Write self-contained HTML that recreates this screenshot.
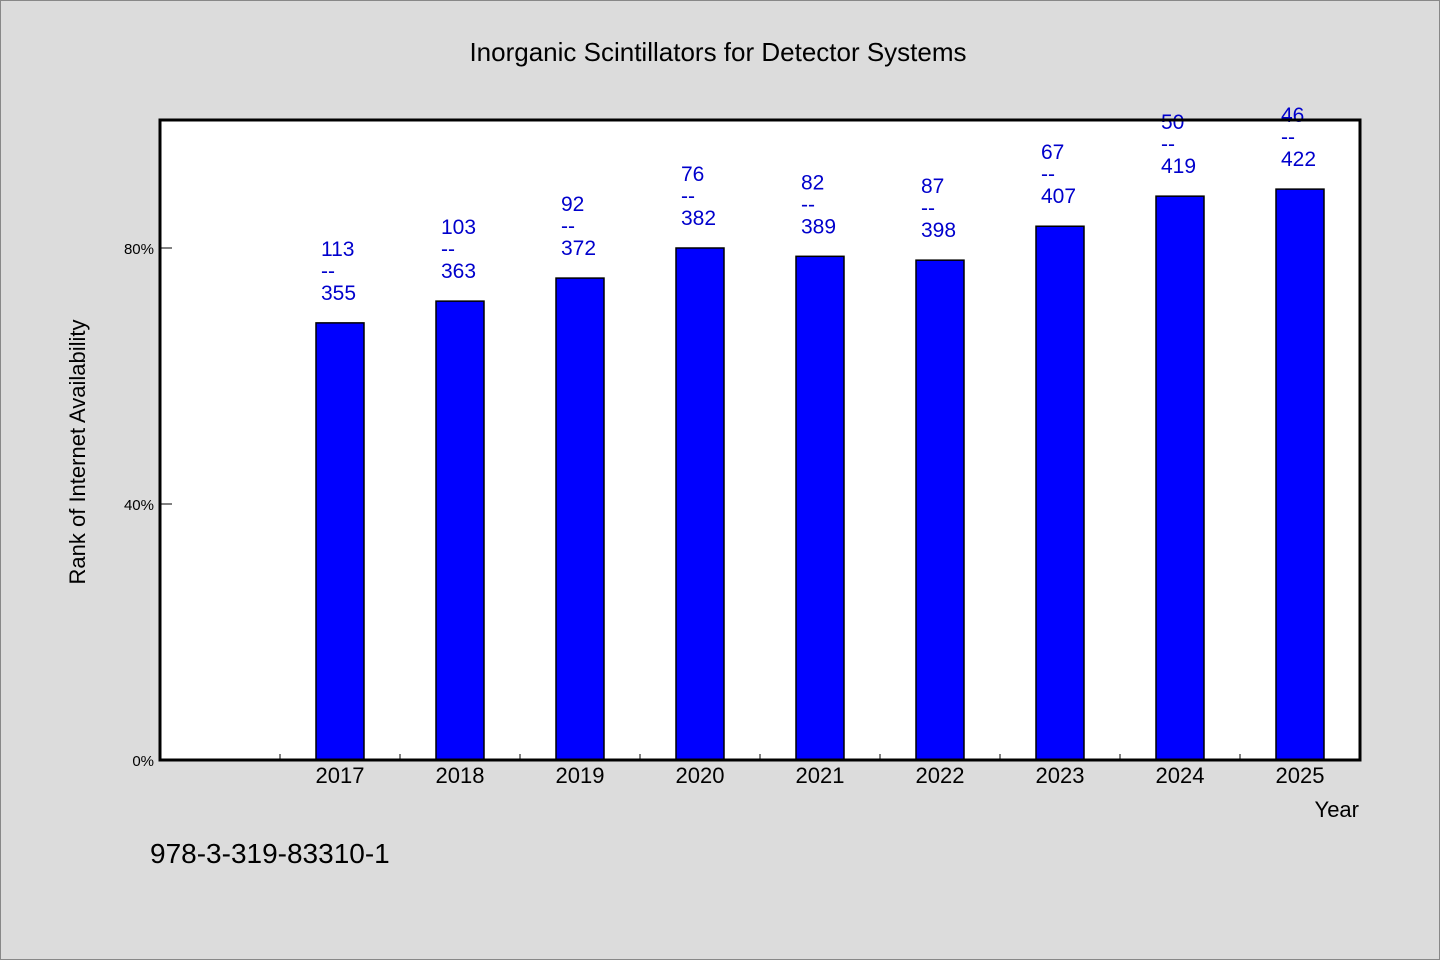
<!DOCTYPE html>
<html><head><meta charset="utf-8">
<style>
body{margin:0;background:#dcdcdc;}
svg{display:block;font-family:"WenQuanYi Zen Hei Mono","WenQuanYi Zen Hei","Liberation Sans",sans-serif;}
</style></head>
<body>
<svg id="chart" width="1440" height="960" viewBox="0 0 1440 960">
<rect x="0.5" y="0.5" width="1439" height="959" fill="#dcdcdc" stroke="#888"/>
<text x="718" y="61" text-anchor="middle" font-size="26">Inorganic Scintillators for Detector Systems</text>
<rect x="160" y="120" width="1200" height="640" fill="#fff"/>
<g id="bars"></g>
<g id="labels"></g>
<g id="yticks"></g>
<g id="xticks"></g>
<rect x="160" y="120" width="1200" height="640" fill="none" stroke="#000" stroke-width="3"/>
<text transform="translate(85,452) rotate(-90)" text-anchor="middle" font-size="22">Rank of Internet Availability</text>
<text x="1359" y="817" text-anchor="end" font-size="22">Year</text>
<text x="150" y="863" font-size="28">978-3-319-83310-1</text>
</svg>
<script>
const categories=["2017","2018","2019","2020","2021","2022","2023","2024","2025"];
const values=[68.3,71.7,75.3,80,78.7,78.1,83.4,88.1,89.2];
const topLabels=["113","103","92","76","82","87","67","50","46"];
const bottomLabels=["355","363","372","382","389","398","407","419","422"];
const yTicks=[0,40,80];
const NS="http://www.w3.org/2000/svg";
const X0=160,W=1200,Y0=760,H=640,YMAX=100,SLOTS=categories.length+1;
const slot=W/SLOTS;
const y=v=>Y0-v/YMAX*H;
const xc=i=>X0+slot*(i+1)+slot/2;
function mk(tag,attrs,parent){const e=document.createElementNS(NS,tag);for(const k in attrs)e.setAttribute(k,attrs[k]);document.getElementById(parent).appendChild(e);return e;}
categories.forEach((c,i)=>{
  const b=mk('rect',{x:xc(i)-24,y:y(values[i]),width:48,height:Y0-y(values[i]),fill:'#0000ff',stroke:'#000','stroke-width':1.5},'bars');
  
  
  const t=y(values[i]);
  const l1=mk('text',{x:xc(i)-19,y:t-67,'font-size':21,fill:'#0000cc'},'labels');l1.textContent=topLabels[i];
  
  
  const l2=mk('text',{x:xc(i)-19,y:t-45,'font-size':21,fill:'#0000cc'},'labels');l2.textContent='--';
  
  
  const l3=mk('text',{x:xc(i)-19,y:t-23,'font-size':21,fill:'#0000cc'},'labels');l3.textContent=bottomLabels[i];
  
  
  const xl=mk('text',{x:xc(i),y:783,'text-anchor':'middle','font-size':22},'xticks');xl.textContent=c;
  
  
});
for(let k=1;k<SLOTS;k++){
  const tk=mk('line',{x1:X0+slot*k,x2:X0+slot*k,y1:Y0,y2:Y0-6,stroke:'#000'},'xticks');
  
  
}
yTicks.forEach(v=>{
  const tk=mk('line',{x1:X0,x2:X0+12,y1:y(v),y2:y(v),stroke:'#000'},'yticks');
  
  
  const tl=mk('text',{x:X0-6,y:y(v)+6,'text-anchor':'end','font-size':15},'yticks');tl.textContent=v+'%';
  
  
});
</script>
</body></html>
